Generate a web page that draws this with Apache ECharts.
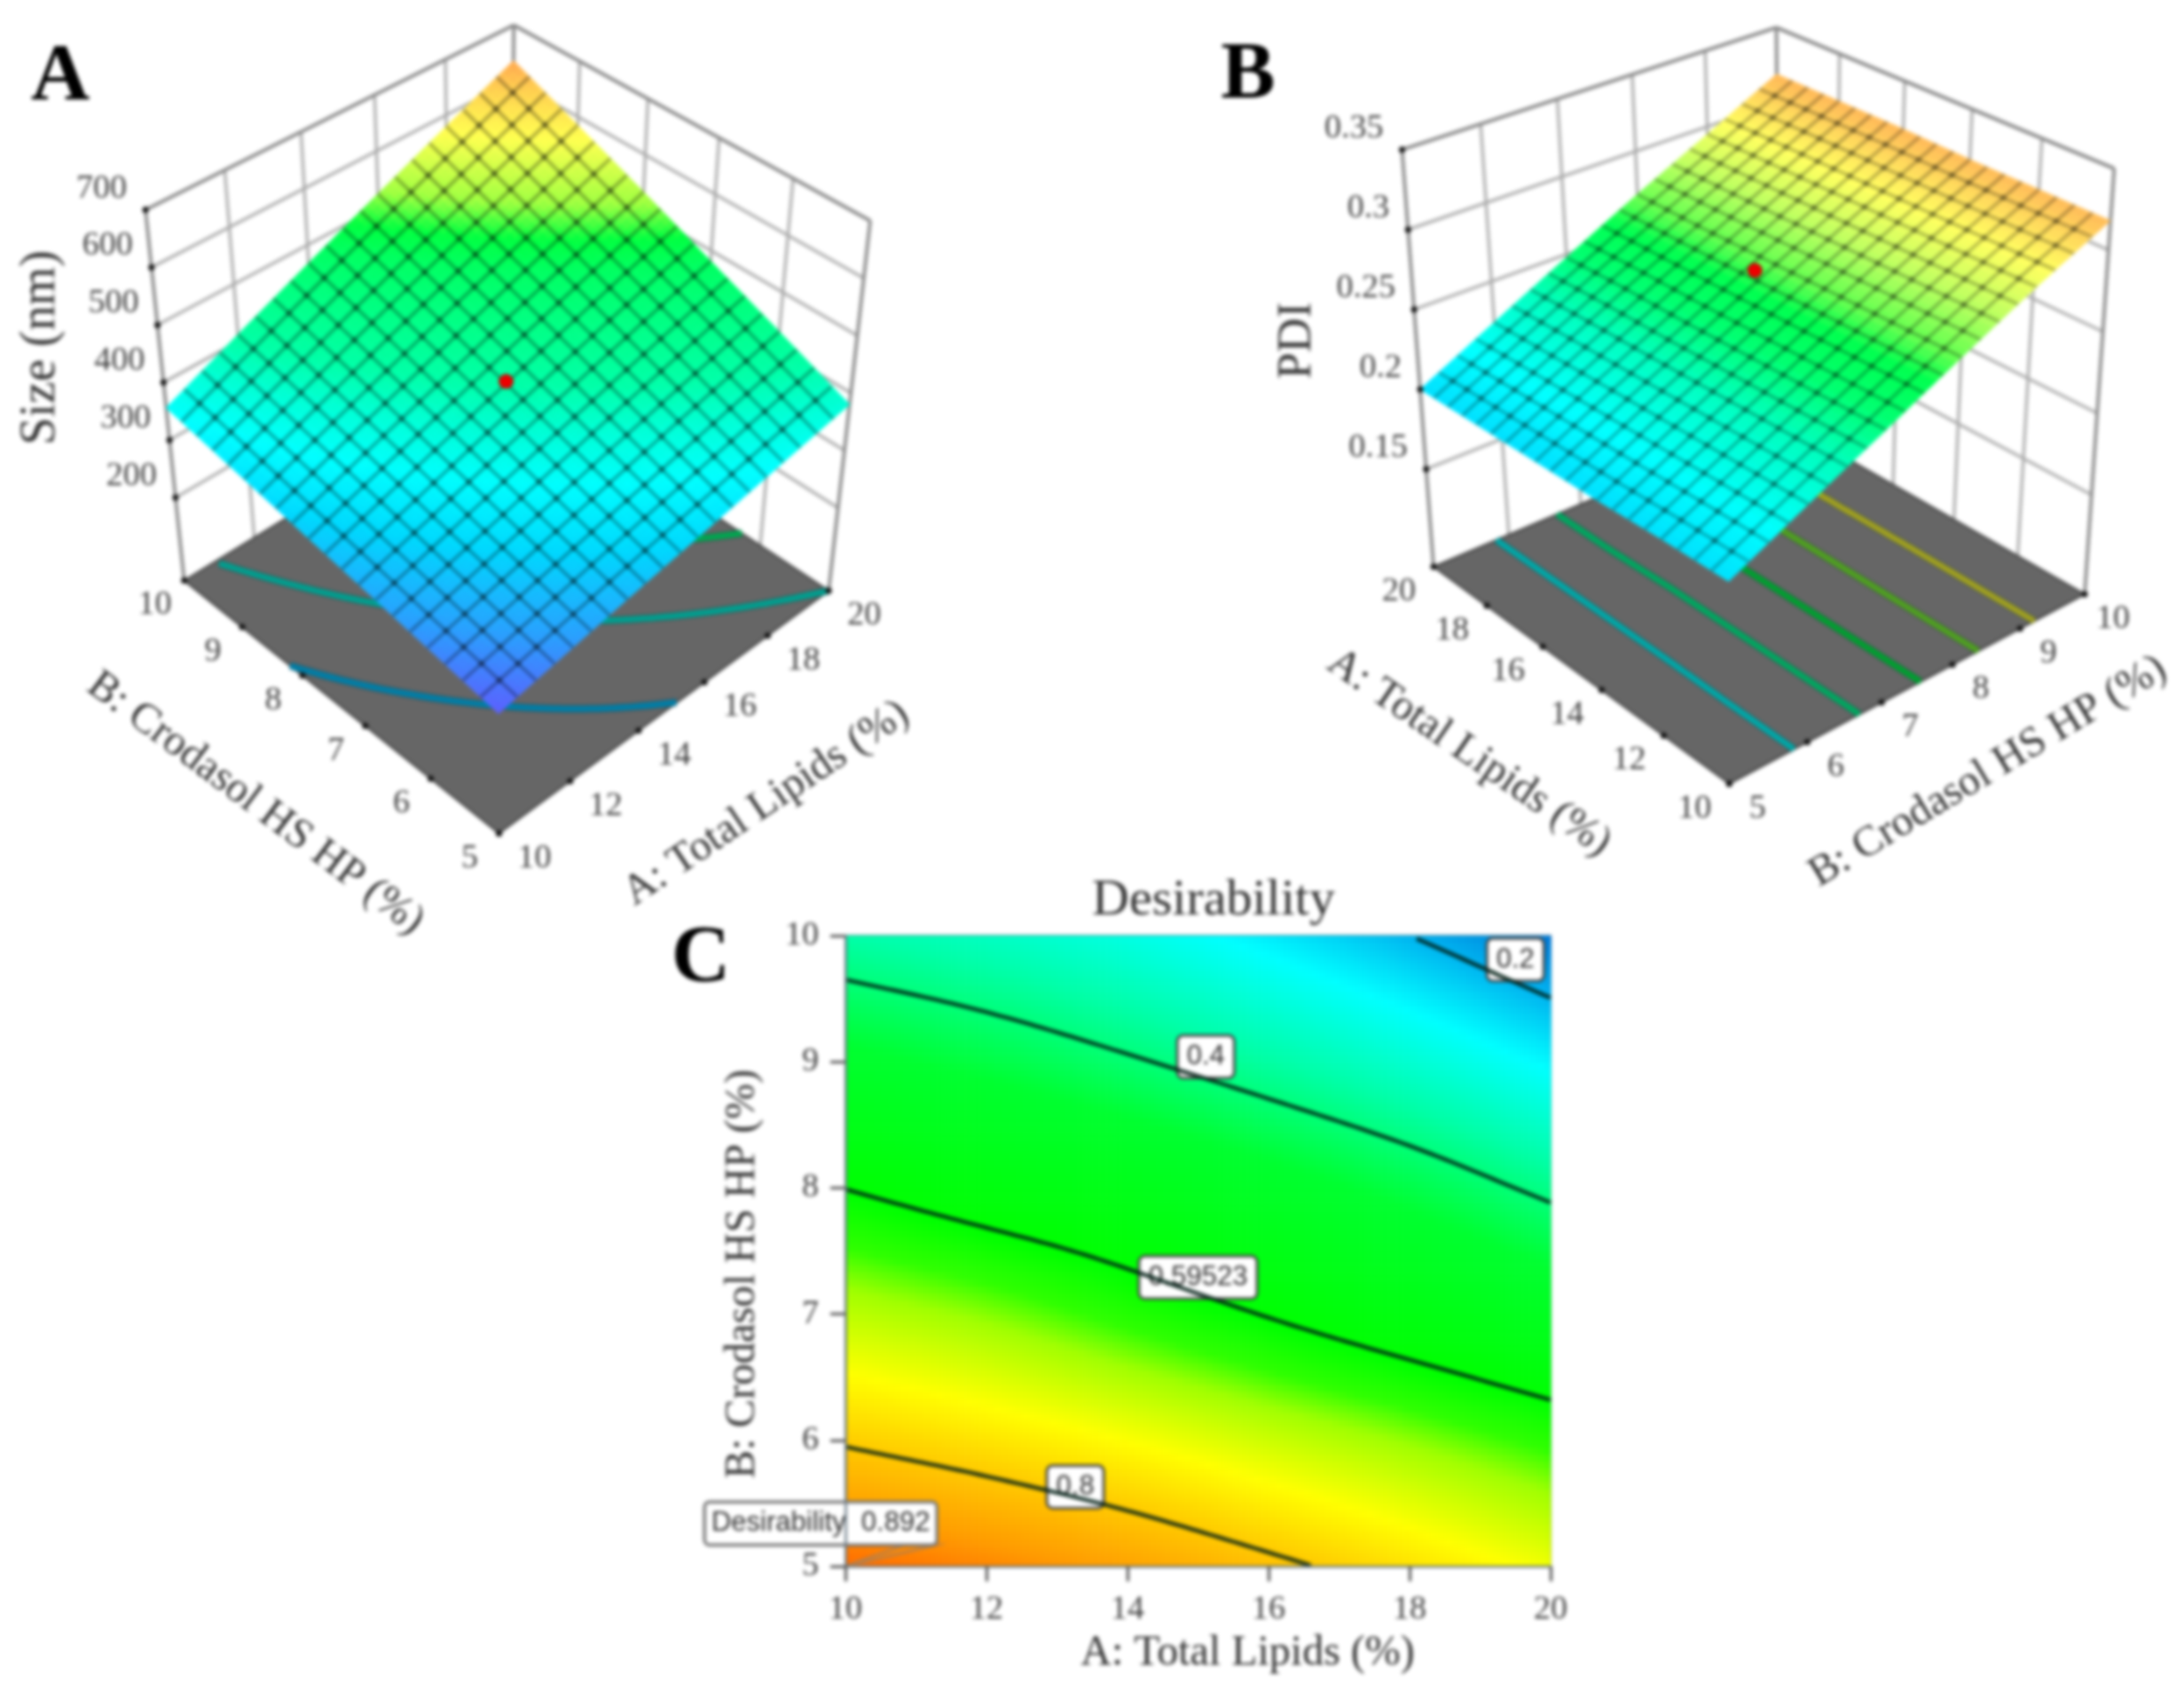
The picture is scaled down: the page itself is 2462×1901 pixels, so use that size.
<!DOCTYPE html>
<html><head><meta charset="utf-8">
<style>html,body{margin:0;padding:0;background:#fff}#c{width:2462px;height:1901px;filter:blur(2.2px)}</style>
<script src="https://cdn.jsdelivr.net/npm/echarts@6/dist/echarts.min.js"></script>
</head><body><div id="c"></div>
<script>
// ---------- data ----------
const lipidTicks = [10, 12, 14, 16, 18, 20];
const crodasolTicks = [5, 6, 7, 8, 9, 10];
const sizeTicks = [200, 300, 400, 500, 600, 700];
const pdiTicks = [0.15, 0.2, 0.25, 0.3, 0.35];
// rows: crodasol 5..10, columns: lipids 10..20
const sizeRow5  = [256, 281, 306, 330, 355, 380];
const sizeRow6  = [276, 307, 338, 369, 400, 431];
const sizeRow7  = [296, 333, 371, 408, 445, 482];
const sizeRow8  = [316, 360, 403, 447, 490, 534];
const sizeRow9  = [336, 386, 436, 485, 535, 585];
const sizeRow10 = [356, 412, 468, 524, 580, 636];
const pdiRow5  = [0.201, 0.201, 0.200, 0.200, 0.200, 0.200];
const pdiRow6  = [0.224, 0.224, 0.224, 0.224, 0.224, 0.224];
const pdiRow7  = [0.247, 0.247, 0.247, 0.247, 0.248, 0.248];
const pdiRow8  = [0.271, 0.271, 0.271, 0.271, 0.271, 0.272];
const pdiRow9  = [0.295, 0.295, 0.295, 0.295, 0.295, 0.295];
const pdiRow10 = [0.318, 0.318, 0.318, 0.319, 0.319, 0.319];
const desRow5  = [0.892, 0.869, 0.843, 0.811, 0.775, 0.735];
const desRow6  = [0.795, 0.772, 0.744, 0.710, 0.675, 0.635];
const desRow7  = [0.700, 0.672, 0.633, 0.592, 0.550, 0.505];
const desRow8  = [0.594, 0.559, 0.527, 0.485, 0.440, 0.386];
const desRow9  = [0.475, 0.444, 0.407, 0.365, 0.318, 0.262];
const desRow10 = [0.360, 0.333, 0.298, 0.252, 0.200, 0.140];
const sizeContours = [320, 380, 445];
const pdiContours = [0.22, 0.24, 0.26, 0.28, 0.30];
const desContours = [0.2, 0.4, 0.59523, 0.8];
const desLabels = [['0.2', 19.5, 9.81], ['0.4', 15.11, 9.04], ['0.59523', 15.0, 7.29], ['0.8', 13.26, 5.63]];
const sizeDesignPoint = [15, 7.5, 411];
const pdiDesignPoint = [15, 7.5, 0.281];
const flagValue = 'Desirability  0.892';

// ---------- tables ----------
const sizeTable = [sizeRow5, sizeRow6, sizeRow7, sizeRow8, sizeRow9, sizeRow10];
const pdiTable = [pdiRow5, pdiRow6, pdiRow7, pdiRow8, pdiRow9, pdiRow10];
const desTable = [desRow5, desRow6, desRow7, desRow8, desRow9, desRow10];
function lookup(t, a, b) {
  const p = Math.min(4.9999, Math.max(0, (a - 10) / 2)), q = Math.min(4.9999, Math.max(0, b - 5));
  const i = Math.floor(p), j = Math.floor(q), s = p - i, r = q - j;
  return (t[j][i] * (1 - s) + t[j][i + 1] * s) * (1 - r) + (t[j + 1][i] * (1 - s) + t[j + 1][i + 1] * s) * r;
}
// Catmull-Rom reading of a table, for the smooth contour panel
function cr(v0, v1, v2, v3, t) {
  return v1 + 0.5 * t * (v2 - v0 + t * (2 * v0 - 5 * v1 + 4 * v2 - v3 + t * (3 * (v1 - v2) + v3 - v0)));
}
function smoothLookup(tb, a, b) {
  const p = Math.min(4.9999, Math.max(0, (a - 10) / 2)), q = Math.min(4.9999, Math.max(0, b - 5));
  const i = Math.floor(p), j = Math.floor(q), s = p - i, r = q - j;
  const at = (jj, ii) => {
    const J = Math.max(0, Math.min(5, jj)), I = Math.max(0, Math.min(5, ii));
    return tb[J][I] + (ii - I) * (tb[J][Math.min(5, I + 1)] - tb[J][Math.max(0, I - 1)]) / (I === 0 || I === 5 ? 1 : 2)
                    + (jj - J) * (tb[Math.min(5, J + 1)][I] - tb[Math.max(0, J - 1)][I]) / (J === 0 || J === 5 ? 1 : 2);
  };
  const row = jj => cr(at(jj, i - 1), at(jj, i), at(jj, i + 1), at(jj, i + 2), s);
  return cr(row(j - 1), row(j), row(j + 1), row(j + 2), r);
}
function ramp(stops, z) {
  if (z <= stops[0][0]) return stops[0][1];
  for (let k = 1; k < stops.length; k++) if (z <= stops[k][0]) {
    const t = (z - stops[k - 1][0]) / (stops[k][0] - stops[k - 1][0]);
    const c0 = stops[k - 1][1], c1 = stops[k][1];
    const ch = n => Math.round(parseInt(c0.substr(n, 2), 16) * (1 - t) + parseInt(c1.substr(n, 2), 16) * t);
    return 'rgb(' + ch(1) + ',' + ch(3) + ',' + ch(5) + ')';
  }
  return stops[stops.length - 1][1];
}
// ---------- camera of the two 3D boxes (screen calibration, not data) ----------
function homography(q) {
  const [p0, p1, p2, p3] = q;
  const dx3 = p0[0] - p1[0] + p2[0] - p3[0], dy3 = p0[1] - p1[1] + p2[1] - p3[1];
  const dx1 = p1[0] - p2[0], dx2 = p3[0] - p2[0], dy1 = p1[1] - p2[1], dy2 = p3[1] - p2[1];
  const den = dx1 * dy2 - dx2 * dy1;
  const g = (dx3 * dy2 - dx2 * dy3) / den, h = (dx1 * dy3 - dx3 * dy1) / den;
  const a = p1[0] - p0[0] + g * p1[0], b = p3[0] - p0[0] + h * p3[0], d = p1[1] - p0[1] + g * p1[1], e = p3[1] - p0[1] + h * p3[1];
  return (u, v) => { const w = g * u + h * v + 1; return [(a * u + b * v + p0[0]) / w, (d * u + e * v + p0[1]) / w]; };
}
function camera(cfg) {
  const fl = homography(cfg.floor), tp = homography(cfg.top);
  return (a, b, z) => {
    const ua = (a - 10) / 10, ub = (b - 5) / 5;
    const u = cfg.swap ? ub : ua, v = cfg.swap ? ua : ub;
    const f = fl(u, v), t = tp(u, v), k = (z - cfg.zMin) / (cfg.zMax - cfg.zMin);
    return [f[0] + (t[0] - f[0]) * k, f[1] + (t[1] - f[1]) * k];
  };
}
// order: front, along-first-axis, back, along-second-axis
const panelA = {
  table: sizeTable, ticks: sizeTicks, zMin: 56, zMax: 700, swap: false,
  floor: [[562.5, 939.8], [934.2, 666], [575.9, 429.3], [207.6, 654.5]],
  top: [[561, 505], [981, 248.8], [579.2, 28.4], [164, 236.6]],
  colors: [[256, '#5c60ff'], [285, '#2aa0ff'], [320, '#00d8ff'], [353, '#00ffff'], [380, '#00ffd8'], [407, '#00ffa8'], [480, '#00ff60'], [500, '#00ff40'], [526, '#a0ff40'], [574, '#ffff50'], [612, '#ffd050'], [636, '#ffa850']],
  contours: sizeContours, contourColors: ['#007fa8', '#00a090', '#00a850'],
  point: sizeDesignPoint, mesh: 'rgba(0,0,0,0.38)', meshW: 3, node: 'rgba(0,0,0,0.3)',
  leftEdge: [10, 10], lipidOff: [40, 28], crodasolOff: [-33, 28]
};
const panelB = {
  table: pdiTable, ticks: pdiTicks, zMin: 0.089, zMax: 0.35, swap: true,
  floor: [[1949.3, 883.7], [2350, 670], [2006, 473.4], [1616, 639]],
  top: [[1948, 352], [2383.3, 190], [2002.5, 31], [1580.5, 168.8]],
  colors: [[0.2, '#00e0ff'], [0.215, '#00ffff'], [0.235, '#00ffc0'], [0.25, '#00ff70'], [0.262, '#00ff50'], [0.27, '#60ff50'], [0.285, '#c0ff60'], [0.3, '#ffff60'], [0.319, '#ffb858']],
  contours: pdiContours, contourColors: ['#00a8a8', '#00a860', '#00a030', '#50a020', '#a0a020'],
  point: pdiDesignPoint, mesh: 'rgba(0,0,0,0.34)', meshW: 2.8, node: 'rgba(0,0,0,0.25)',
  leftEdge: [20, 5], lipidOff: [-39, 28], crodasolOff: [32, 28]
};
panelA.proj = camera(panelA); panelB.proj = camera(panelB);

const serif = '"Liberation Serif", serif', sans = '"Liberation Sans", sans-serif';
const series = [];
function layer(items, draw, axis) {
  series.push({
    type: 'custom', coordinateSystem: 'cartesian2d', xAxisIndex: axis || 0, yAxisIndex: axis || 0,
    silent: true, animation: false, progressive: 0, clip: false,
    data: items.map((_, i) => [i, i]),
    renderItem: (p, api) => draw(items[p.dataIndex], api)
  });
}
function poly(api, pts, style) {
  return { type: 'polygon', shape: { points: pts.map(q => api.coord(q)) }, style };
}
function path(api, pts, style) {
  return { type: 'polyline', shape: { points: pts.map(q => api.coord(q)) }, style: Object.assign({ fill: null }, style) };
}
function label(api, x, y, text, opt) {
  const c = api.coord([x, y]);
  return { type: 'text', x: c[0], y: c[1], rotation: (opt.rot || 0) * Math.PI / 180,
    style: { text, fill: opt.fill || '#555', font: opt.font, align: opt.align || 'center', verticalAlign: 'middle' } };
}

function build3D(P) {
  const pr = P.proj;
  // walls
  const wall = [];
  P.ticks.forEach(z => {
    wall.push({ pts: [pr(10, 10, z), pr(20, 10, z)] });
    wall.push({ pts: [pr(20, 10, z), pr(20, 5, z)] });
  });
  lipidTicks.slice(1, -1).forEach(a => wall.push({ pts: [pr(a, 10, P.zMin), pr(a, 10, P.zMax)] }));
  crodasolTicks.slice(1, -1).forEach(b => wall.push({ pts: [pr(20, b, P.zMin), pr(20, b, P.zMax)] }));
  layer(wall, (w, api) => path(api, w.pts, { stroke: '#aaaaaa', lineWidth: 3.2 }));
  const edge = [
    [[10, 10], [20, 10]], [[20, 10], [20, 5]]
  ].map(e => ({ pts: [pr(e[0][0], e[0][1], P.zMax), pr(e[1][0], e[1][1], P.zMax)] }));
  [[10, 10], [20, 10], [20, 5]].forEach(c => edge.push({ pts: [pr(c[0], c[1], P.zMin), pr(c[0], c[1], P.zMax)] }));
  layer(edge, (w, api) => path(api, w.pts, { stroke: '#858585', lineWidth: 3.6 }));
  // floor
  layer([0], (_, api) => poly(api, [pr(10, 5, P.zMin), pr(20, 5, P.zMin), pr(20, 10, P.zMin), pr(10, 10, P.zMin)],
    { fill: '#666666', stroke: '#3a3a3a', lineWidth: 2 }));
  // contour projections on the floor
  P.contours.forEach((lvl, k) => {
    const pts = [];
    for (let s = 0; s <= 200; s++) {
      const a = 10 + s * 0.05;
      for (let r = 0; r < 100; r++) {
        const b0 = 5 + r * 0.05, b1 = b0 + 0.05;
        const z0 = lookup(P.table, a, b0), z1 = lookup(P.table, a, b1);
        if ((z0 - lvl) * (z1 - lvl) <= 0 && z0 !== z1) {
          pts.push(pr(a, b0 + (lvl - z0) / (z1 - z0) * 0.05, P.zMin)); break;
        }
      }
    }
    layer([0], (_, api) => path(api, pts, { stroke: 'rgba(20,50,60,0.5)', lineWidth: 9 }));
    layer([0], (_, api) => path(api, pts, { stroke: P.contourColors[k], lineWidth: 7 }));
  });
  // surface facets
  const facets = [], n = 60;
  for (let i = 0; i < n; i++) for (let j = 0; j < n; j++) {
    const a0 = 10 + 10 * i / n, a1 = 10 + 10 * (i + 1) / n, b0 = 5 + 5 * j / n, b1 = 5 + 5 * (j + 1) / n;
    facets.push({ q: [[a0, b0], [a1, b0], [a1, b1], [a0, b1]], z: lookup(P.table, (a0 + a1) / 2, (b0 + b1) / 2) });
  }
  layer(facets, (f, api) => {
    const col = ramp(P.colors, f.z);
    return poly(api, f.q.map(c => pr(c[0], c[1], lookup(P.table, c[0], c[1]))), { fill: col, stroke: col, lineWidth: 0.8 });
  });
  // mesh
  const mesh = [], nodes = [];
  for (let m = 1; m < 20; m++) {
    const l1 = [], l2 = [];
    for (let s = 0; s <= 20; s++) {
      const a = 10 + m * 0.5, b = 5 + s * 0.25; l1.push(pr(a, b, lookup(P.table, a, b)));
      const a2 = 10 + s * 0.5, b2 = 5 + m * 0.25; l2.push(pr(a2, b2, lookup(P.table, a2, b2)));
      if (s > 0 && s < 20) nodes.push(pr(a, b, lookup(P.table, a, b)));
    }
    mesh.push(l1, l2);
  }
  layer(mesh, (l, api) => path(api, l, { stroke: P.mesh, lineWidth: P.meshW }));
  layer(nodes, (d, api) => {
    const c = api.coord(d);
    return { type: 'circle', shape: { cx: c[0], cy: c[1], r: 3.4 }, style: { fill: P.node } };
  });
  // design point
  layer([P.point], (d, api) => {
    const c = api.coord(pr(d[0], d[1], d[2]));
    return { type: 'circle', shape: { cx: c[0], cy: c[1], r: 8 }, style: { fill: '#ee0000', stroke: '#8a0000', lineWidth: 1 } };
  });
  // tick dots
  const dots = [];
  P.ticks.forEach(z => dots.push(pr(P.leftEdge[0], P.leftEdge[1], z)));
  lipidTicks.forEach(a => dots.push(pr(a, 5, P.zMin)));
  crodasolTicks.forEach(b => dots.push(pr(10, b, P.zMin)));
  layer(dots, (d, api) => {
    const c = api.coord(d);
    return { type: 'circle', shape: { cx: c[0], cy: c[1], r: 3.5 }, style: { fill: '#111' } };
  });
  // tick labels
  const tickFont = '38px ' + serif;
  layer(P.ticks, (z, api) => {
    const c = pr(P.leftEdge[0], P.leftEdge[1], z);
    return label(api, c[0] - 21, c[1] - 24, String(z), { font: tickFont, align: 'right', fill: '#444' });
  });
  layer(lipidTicks, (a, api) => {
    const c = pr(a, 5, P.zMin);
    return label(api, c[0] + P.lipidOff[0], c[1] + P.lipidOff[1], String(a), { font: tickFont, fill: '#444' });
  });
  layer(crodasolTicks, (b, api) => {
    const c = pr(10, b, P.zMin);
    return label(api, c[0] + P.crodasolOff[0], c[1] + P.crodasolOff[1], String(b), { font: tickFont, fill: '#444' });
  });
}
build3D(panelA);
build3D(panelB);

// 3D-panel axis names and panel letters
const nameFont = '48px ' + serif, bigFont = 'bold 92px ' + serif;
const texts = [
  [46, 392, 'Size (nm)', 90, '56px ' + serif], [288, 906, 'B: Crodasol HS HP (%)', -36.9, nameFont], [864, 906, 'A: Total Lipids (%)', 34, nameFont],
  [1463, 384, 'PDI', 90, '54px ' + serif], [1656, 849, 'A: Total Lipids (%)', -34.5, nameFont], [2241, 870, 'B: Crodasol HS HP (%)', 31.2, nameFont],
  [68, 88, 'A', 0, bigFont], [1407, 86, 'B', 0, bigFont], [790, 1082, 'C', 0, bigFont]
];
layer(texts, (t, api) => label(api, t[0], t[1], t[2], { rot: t[3], font: t[4], fill: t[4].startsWith('bold') ? '#000' : '#333' }));

// ---------- panel C ----------
const desColors = [[0.14, '#0078d8'], [0.2, '#00b4f0'], [0.27, '#00ffff'], [0.36, '#00ffa8'], [0.46, '#00ff30'], [0.6, '#00ff00'], [0.645, '#30ff00'], [0.68, '#a0ff00'], [0.745, '#ffff00'], [0.8, '#ffc800'], [0.85, '#ff9c00'], [0.892, '#ff6a00']];
const cells = [], nA = 100, nB = 90;
for (let i = 0; i < nA; i++) for (let j = 0; j < nB; j++) {
  const a = 10 + 10 * (i + 0.5) / nA, b = 5 + 5 * (j + 0.5) / nB;
  cells.push([a, b, smoothLookup(desTable, a, b)]);
}
layer(cells, (c, api) => {
  const p0 = api.coord([c[0] - 5 / nA, c[1] + 2.5 / nB]), p1 = api.coord([c[0] + 5 / nA, c[1] - 2.5 / nB]);
  return { type: 'rect', shape: { x: p0[0], y: p0[1], width: p1[0] - p0[0] + 0.6, height: p1[1] - p0[1] + 0.6 }, style: { fill: ramp(desColors, c[2]) } };
}, 1);
desContours.forEach(lvl => {
  const pts = [];
  for (let s = 0; s <= 100; s++) {
    const a = 10 + s * 0.1;
    for (let r = 0; r < 100; r++) {
      const b0 = 5 + r * 0.05, b1 = b0 + 0.05, d0 = smoothLookup(desTable, a, b0), d1 = smoothLookup(desTable, a, b1);
      if ((d0 - lvl) * (d1 - lvl) <= 0) { pts.push([a, b0 + (lvl - d0) / (d1 - d0) * 0.05]); break; }
    }
  }
  series.push({ type: 'line', xAxisIndex: 1, yAxisIndex: 1, data: pts, showSymbol: false, silent: true, animation: false,
    lineStyle: { color: 'rgba(0,30,20,0.9)', width: 4.4 } });
});
const boxText = (api, a, b, text) => {
  const c = api.coord([a, b]);
  return { type: 'text', x: c[0], y: c[1], z2: 10,
    style: { text, font: '31px ' + sans, fill: '#333', align: 'center', verticalAlign: 'middle',
      backgroundColor: '#fff', borderColor: '#444', borderWidth: 3, borderRadius: 5, padding: [7, 9, 7, 9] } };
};
layer(desLabels, (d, api) => boxText(api, d[1], d[2], d[0]), 1);
layer([0], (_, api) => poly(api, [[10, 5], [11.3, 5.17], [10.85, 5.17]], { fill: 'rgba(255,150,0,0.3)', stroke: '#b08050', lineWidth: 2.5 }), 1);
layer([0], (_, api) => {
  const c = api.coord([9.65, 5.34]);
  return { type: 'text', x: c[0], y: c[1], style: { text: flagValue, font: '31px ' + sans, fill: '#333', align: 'center', verticalAlign: 'middle',
    backgroundColor: '#fff', borderColor: '#777', borderWidth: 3.5, borderRadius: 4, padding: [7, 6, 7, 6] } };
}, 1);

const hiddenAxis = { show: false, type: 'value', gridIndex: 0 };
const axisBase = {
  type: 'value', gridIndex: 1, z: 5, nameLocation: 'middle', splitLine: { show: false },
  axisLine: { show: true, onZero: false, lineStyle: { color: '#6a7a86', width: 2.5 } },
  axisTick: { show: true, length: 17, lineStyle: { color: '#555', width: 3 } },
  axisLabel: { fontFamily: 'Liberation Serif', fontSize: 38, color: '#444', margin: 30 },
  nameTextStyle: { fontFamily: 'Liberation Serif', fontSize: 48, color: '#333' }
};
const option = {
  backgroundColor: '#fff', animation: false,
  title: { text: 'Desirability', left: 1363, top: 982, textAlign: 'center', textStyle: { fontFamily: 'Liberation Serif', fontSize: 58, fontWeight: 'normal', color: '#333' } },
  grid: [
    { left: 0, top: 0, width: 2462, height: 1901, show: false },
    { left: 953, top: 1055, width: 795, height: 711, show: true, borderColor: '#5a7a90', borderWidth: 2, backgroundColor: 'transparent' }
  ],
  xAxis: [
    Object.assign({}, hiddenAxis, { min: 0, max: 2462 }),
    Object.assign({}, axisBase, { min: 10, max: 20, interval: 2, name: 'A: Total Lipids (%)', nameGap: 74, nameTextStyle: Object.assign({}, axisBase.nameTextStyle, { padding: [0, 0, 0, 112] }) })
  ],
  yAxis: [
    Object.assign({}, hiddenAxis, { min: 0, max: 1901, inverse: true }),
    Object.assign({}, axisBase, { min: 5, max: 10, interval: 1, name: 'B: Crodasol HS HP (%)', nameGap: 92, nameTextStyle: Object.assign({}, axisBase.nameTextStyle, { padding: [0, 52, 0, 0] }) })
  ],
  series
};
const chart = echarts.init(document.getElementById('c'), null, { width: 2462, height: 1901 });
chart.setOption(option);
</script></body></html>
